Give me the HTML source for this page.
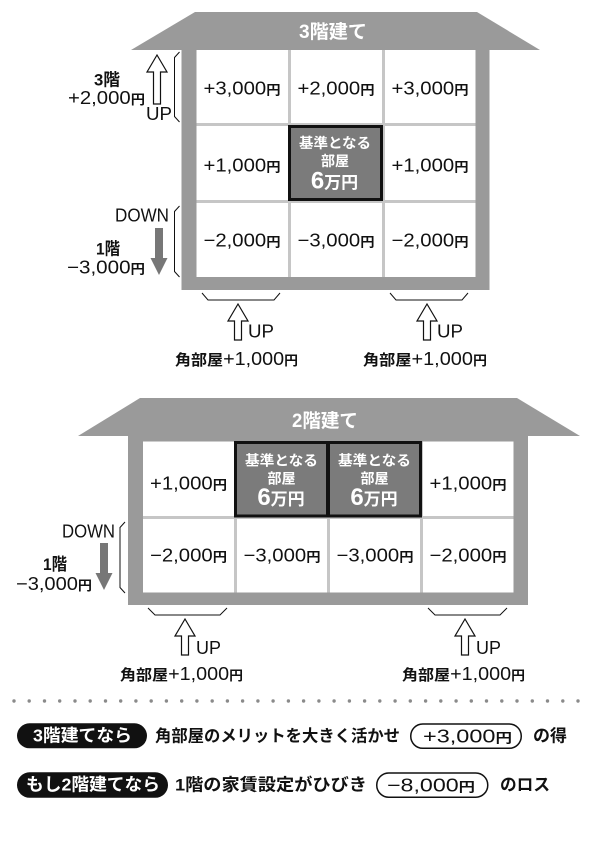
<!DOCTYPE html>
<html><head><meta charset="utf-8">
<style>
html,body{margin:0;padding:0;background:#fff;}
svg{display:block;}
.n{font-family:"Liberation Sans","Noto Sans CJK JP",sans-serif;font-size:18.5px;fill:#111;}
.y{font-family:"Noto Sans CJK JP","Liberation Sans",sans-serif;font-size:13px;font-weight:bold;}
.j{font-family:"Liberation Sans","Noto Sans CJK JP",sans-serif;font-weight:bold;fill:#111;}
.w{font-family:"Liberation Sans","Noto Sans CJK JP",sans-serif;font-weight:bold;fill:#fff;}
.br{fill:none;stroke:#111;stroke-width:1;}
.ua{fill:#fff;stroke:#111;stroke-width:1.2;stroke-linejoin:miter;}
</style></head>
<body>
<svg width="600" height="843" viewBox="0 0 600 843" xmlns="http://www.w3.org/2000/svg">
<!-- ===== House 1 ===== -->
<polygon points="195,12 477,12 540,50 131,50" fill="#9a9a9a"/>
<rect x="181.5" y="49.5" width="308" height="240.5" fill="#9a9a9a"/>
<rect x="196.5" y="50" width="279" height="227" fill="#c6c6c6"/>
<rect x="196.5" y="50" width="91.5" height="73" fill="#fff"/>
<rect x="291" y="50" width="91" height="73" fill="#fff"/>
<rect x="385" y="50" width="90.5" height="73" fill="#fff"/>
<rect x="196.5" y="126" width="91.5" height="74" fill="#fff"/>
<rect x="385" y="126" width="90.5" height="74" fill="#fff"/>
<rect x="196.5" y="203" width="91.5" height="74" fill="#fff"/>
<rect x="291" y="203" width="91" height="74" fill="#fff"/>
<rect x="385" y="203" width="90.5" height="74" fill="#fff"/>
<rect x="289.5" y="126.5" width="92" height="73" fill="#7b7b7b" stroke="#111" stroke-width="3"/>

<text class="w" x="333" y="38" text-anchor="middle" font-size="19" textLength="68" lengthAdjust="spacingAndGlyphs">3階建て</text>

<text class="n" x="242" y="94.5" text-anchor="middle" textLength="77" lengthAdjust="spacingAndGlyphs">+3,000<tspan class="y">円</tspan></text>
<text class="n" x="336" y="94.5" text-anchor="middle" textLength="77" lengthAdjust="spacingAndGlyphs">+2,000<tspan class="y">円</tspan></text>
<text class="n" x="430" y="94.5" text-anchor="middle" textLength="77" lengthAdjust="spacingAndGlyphs">+3,000<tspan class="y">円</tspan></text>
<text class="n" x="242" y="171.7" text-anchor="middle" textLength="77" lengthAdjust="spacingAndGlyphs">+1,000<tspan class="y">円</tspan></text>
<text class="n" x="430" y="171.7" text-anchor="middle" textLength="77" lengthAdjust="spacingAndGlyphs">+1,000<tspan class="y">円</tspan></text>
<text class="n" x="242" y="246.7" text-anchor="middle" textLength="77" lengthAdjust="spacingAndGlyphs">−2,000<tspan class="y">円</tspan></text>
<text class="n" x="336" y="246.7" text-anchor="middle" textLength="77" lengthAdjust="spacingAndGlyphs">−3,000<tspan class="y">円</tspan></text>
<text class="n" x="430" y="246.7" text-anchor="middle" textLength="77" lengthAdjust="spacingAndGlyphs">−2,000<tspan class="y">円</tspan></text>

<text class="w" x="335" y="148" text-anchor="middle" font-size="14" textLength="72" lengthAdjust="spacingAndGlyphs">基準となる</text>
<text class="w" x="335" y="166" text-anchor="middle" font-size="14">部屋</text>
<text class="w" x="334.5" y="188.5" text-anchor="middle"><tspan font-size="24">6</tspan><tspan font-size="17">万円</tspan></text>

<!-- left annotations house 1 -->
<text class="j" x="94" y="85.5" font-size="17" textLength="26" lengthAdjust="spacingAndGlyphs">3階</text>
<text class="n" x="68" y="104" textLength="77" lengthAdjust="spacingAndGlyphs">+2,000<tspan class="y">円</tspan></text>
<path class="ua" d="M157,55 L167,72 L160.5,72 L160.5,104 L153.5,104 L153.5,72 L147,72 Z"/>
<text class="n" x="146" y="120" font-size="17.5" textLength="26" lengthAdjust="spacingAndGlyphs">UP</text>
<path class="br" d="M179.5,52 L174.5,57.5 L174.5,116.5 L179.5,122"/>

<text class="n" x="115" y="221.7" font-size="17.5" textLength="54" lengthAdjust="spacingAndGlyphs">DOWN</text>
<path class="br" d="M179.5,206 L174.5,211.5 L174.5,271.5 L179.5,277"/>
<path d="M155,228 L163,228 L163,258 L167.5,258 L159,275 L150.5,258 L155,258 Z" fill="#777"/>
<text class="j" x="96" y="254.5" font-size="17" textLength="24" lengthAdjust="spacingAndGlyphs">1階</text>
<text class="n" x="67" y="273.3" textLength="78" lengthAdjust="spacingAndGlyphs">−3,000<tspan class="y">円</tspan></text>

<!-- bottom annotations house 1 -->
<path class="br" d="M202,293 L208,300 L274,300 L280,293"/>
<path class="br" d="M390,293 L396,300 L462,300 L468,293"/>
<path class="ua" d="M238,304 L248,321 L241.5,321 L241.5,340 L234.5,340 L234.5,321 L228,321 Z"/>
<path class="ua" d="M427,304 L437,321 L430.5,321 L430.5,340 L423.5,340 L423.5,321 L417,321 Z"/>
<text class="n" x="248" y="337.3" textLength="26" lengthAdjust="spacingAndGlyphs">UP</text>
<text class="n" x="437" y="337.3" textLength="26" lengthAdjust="spacingAndGlyphs">UP</text>
<text class="n" x="175" y="365" textLength="123" lengthAdjust="spacingAndGlyphs"><tspan class="j" font-size="15">角部屋</tspan>+1,000<tspan class="y">円</tspan></text>
<text class="n" x="363" y="365" textLength="124" lengthAdjust="spacingAndGlyphs"><tspan class="j" font-size="15">角部屋</tspan>+1,000<tspan class="y">円</tspan></text>

<!-- ===== House 2 ===== -->
<polygon points="140,398 517,398 580,436 78,436" fill="#9a9a9a"/>
<rect x="128" y="435.5" width="400" height="169.5" fill="#9a9a9a"/>
<rect x="143" y="441.5" width="370.5" height="151" fill="#c6c6c6"/>
<rect x="143" y="441.5" width="91" height="74.5" fill="#fff"/>
<rect x="423" y="441.5" width="90.5" height="74.5" fill="#fff"/>
<rect x="143" y="519" width="91" height="73.5" fill="#fff"/>
<rect x="237" y="519" width="90" height="73.5" fill="#fff"/>
<rect x="330" y="519" width="90" height="73.5" fill="#fff"/>
<rect x="423" y="519" width="90.5" height="73.5" fill="#fff"/>
<rect x="235.5" y="442.5" width="92" height="73.5" fill="#7b7b7b" stroke="#111" stroke-width="3"/>
<rect x="328.5" y="442.5" width="92" height="73.5" fill="#7b7b7b" stroke="#111" stroke-width="3"/>

<text class="w" x="325" y="427" text-anchor="middle" font-size="19" textLength="66" lengthAdjust="spacingAndGlyphs">2階建て</text>

<text class="n" x="188.5" y="489.5" text-anchor="middle" textLength="77" lengthAdjust="spacingAndGlyphs">+1,000<tspan class="y">円</tspan></text>
<text class="n" x="468" y="489.5" text-anchor="middle" textLength="77" lengthAdjust="spacingAndGlyphs">+1,000<tspan class="y">円</tspan></text>
<text class="n" x="188.5" y="561.7" text-anchor="middle" textLength="77" lengthAdjust="spacingAndGlyphs">−2,000<tspan class="y">円</tspan></text>
<text class="n" x="282" y="561.7" text-anchor="middle" textLength="77" lengthAdjust="spacingAndGlyphs">−3,000<tspan class="y">円</tspan></text>
<text class="n" x="375" y="561.7" text-anchor="middle" textLength="77" lengthAdjust="spacingAndGlyphs">−3,000<tspan class="y">円</tspan></text>
<text class="n" x="468" y="561.7" text-anchor="middle" textLength="77" lengthAdjust="spacingAndGlyphs">−2,000<tspan class="y">円</tspan></text>

<text class="w" x="281.5" y="465.5" text-anchor="middle" font-size="14" textLength="73" lengthAdjust="spacingAndGlyphs">基準となる</text>
<text class="w" x="281.5" y="483.5" text-anchor="middle" font-size="14">部屋</text>
<text class="w" x="281" y="505" text-anchor="middle"><tspan font-size="24">6</tspan><tspan font-size="17">万円</tspan></text>
<text class="w" x="374.5" y="465.5" text-anchor="middle" font-size="14" textLength="73" lengthAdjust="spacingAndGlyphs">基準となる</text>
<text class="w" x="374.5" y="483.5" text-anchor="middle" font-size="14">部屋</text>
<text class="w" x="374" y="505" text-anchor="middle"><tspan font-size="24">6</tspan><tspan font-size="17">万円</tspan></text>

<!-- left annotations house 2 -->
<text class="n" x="62" y="537.3" font-size="17.5" textLength="53" lengthAdjust="spacingAndGlyphs">DOWN</text>
<path class="br" d="M125,522 L120,527.5 L120,587.5 L125,593"/>
<path d="M100,543 L108,543 L108,573 L112.5,573 L104,590 L95.5,573 L100,573 Z" fill="#777"/>
<text class="j" x="43" y="570" font-size="17" textLength="24" lengthAdjust="spacingAndGlyphs">1階</text>
<text class="n" x="16" y="590" textLength="76" lengthAdjust="spacingAndGlyphs">−3,000<tspan class="y">円</tspan></text>

<!-- bottom annotations house 2 -->
<path class="br" d="M148,608 L155,615 L220,615 L227,608"/>
<path class="br" d="M428,608 L435,615 L500,615 L507,608"/>
<path class="ua" d="M185,619 L195,636 L188.5,636 L188.5,655 L181.5,655 L181.5,636 L175,636 Z"/>
<path class="ua" d="M465,619 L475,636 L468.5,636 L468.5,655 L461.5,655 L461.5,636 L455,636 Z"/>
<text class="n" x="196" y="654" textLength="25" lengthAdjust="spacingAndGlyphs">UP</text>
<text class="n" x="476" y="654" textLength="25" lengthAdjust="spacingAndGlyphs">UP</text>
<text class="n" x="120" y="680" textLength="123" lengthAdjust="spacingAndGlyphs"><tspan class="j" font-size="15">角部屋</tspan>+1,000<tspan class="y">円</tspan></text>
<text class="n" x="402" y="680" textLength="123" lengthAdjust="spacingAndGlyphs"><tspan class="j" font-size="15">角部屋</tspan>+1,000<tspan class="y">円</tspan></text>

<!-- dotted separator -->
<g fill="#8a8a8a">
<circle cx="14.0" cy="701" r="1.7"/><circle cx="29.2" cy="701" r="1.7"/><circle cx="44.5" cy="701" r="1.7"/><circle cx="59.7" cy="701" r="1.7"/><circle cx="75.0" cy="701" r="1.7"/><circle cx="90.2" cy="701" r="1.7"/><circle cx="105.5" cy="701" r="1.7"/><circle cx="120.7" cy="701" r="1.7"/><circle cx="135.9" cy="701" r="1.7"/><circle cx="151.2" cy="701" r="1.7"/><circle cx="166.4" cy="701" r="1.7"/><circle cx="181.7" cy="701" r="1.7"/><circle cx="196.9" cy="701" r="1.7"/><circle cx="212.2" cy="701" r="1.7"/><circle cx="227.4" cy="701" r="1.7"/><circle cx="242.6" cy="701" r="1.7"/><circle cx="257.9" cy="701" r="1.7"/><circle cx="273.1" cy="701" r="1.7"/><circle cx="288.4" cy="701" r="1.7"/><circle cx="303.6" cy="701" r="1.7"/><circle cx="318.9" cy="701" r="1.7"/><circle cx="334.1" cy="701" r="1.7"/><circle cx="349.4" cy="701" r="1.7"/><circle cx="364.6" cy="701" r="1.7"/><circle cx="379.8" cy="701" r="1.7"/><circle cx="395.1" cy="701" r="1.7"/><circle cx="410.3" cy="701" r="1.7"/><circle cx="425.6" cy="701" r="1.7"/><circle cx="440.8" cy="701" r="1.7"/><circle cx="456.1" cy="701" r="1.7"/><circle cx="471.3" cy="701" r="1.7"/><circle cx="486.5" cy="701" r="1.7"/><circle cx="501.8" cy="701" r="1.7"/><circle cx="517.0" cy="701" r="1.7"/><circle cx="532.3" cy="701" r="1.7"/><circle cx="547.5" cy="701" r="1.7"/><circle cx="562.8" cy="701" r="1.7"/><circle cx="578.0" cy="701" r="1.7"/>
</g>

<!-- bottom summary -->
<rect x="17" y="723.3" width="130" height="25" rx="12.5" fill="#111"/>
<text class="w" x="82.5" y="741.5" text-anchor="middle" font-size="17.5" textLength="99" lengthAdjust="spacingAndGlyphs">3階建てなら</text>
<text class="j" x="155" y="741.5" font-size="16.5" textLength="245" lengthAdjust="spacingAndGlyphs">角部屋のメリットを大きく活かせ</text>
<rect x="410.75" y="724" width="110.5" height="24.3" rx="12" fill="none" stroke="#111" stroke-width="1.5"/>
<text class="n" x="423" y="742.5" font-size="19.5" textLength="89" lengthAdjust="spacingAndGlyphs">+3,000<tspan class="y" font-size="15">円</tspan></text>
<text class="j" x="533" y="741.5" font-size="17" textLength="34" lengthAdjust="spacingAndGlyphs">の得</text>

<rect x="17" y="772.3" width="151" height="25.5" rx="12.7" fill="#111"/>
<text class="w" x="93" y="790.5" text-anchor="middle" font-size="17.5" textLength="134" lengthAdjust="spacingAndGlyphs">もし2階建てなら</text>
<text class="j" x="175" y="790.5" font-size="17" textLength="192" lengthAdjust="spacingAndGlyphs">1階の家賃設定がひびき</text>
<rect x="376.75" y="773" width="111" height="24.2" rx="12" fill="none" stroke="#111" stroke-width="1.5"/>
<text class="n" x="387" y="791.5" font-size="19.5" textLength="88" lengthAdjust="spacingAndGlyphs">−8,000<tspan class="y" font-size="15">円</tspan></text>
<text class="j" x="500" y="790.5" font-size="17" textLength="50" lengthAdjust="spacingAndGlyphs">のロス</text>
</svg>
</body></html>
